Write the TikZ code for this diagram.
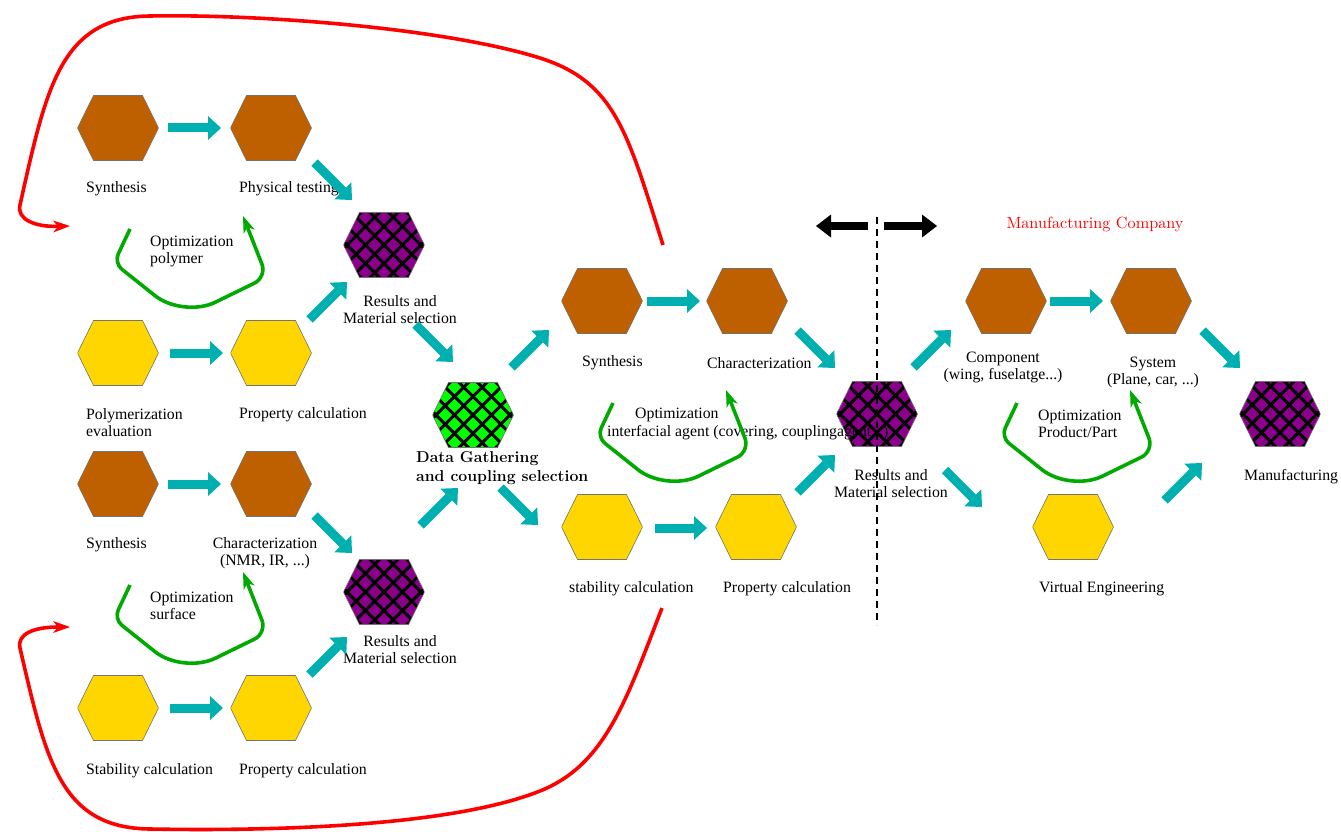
\documentclass[tikz,border=0pt]{standalone}
\usepackage{fontspec}
\newfontfamily\tnr{Liberation Serif}
\newfontfamily\lmten{lmroman10-regular.otf}
\usetikzlibrary{arrows.meta}
\definecolor{hbrown}{RGB}{191,96,0}
\definecolor{hyellow}{RGB}{255,214,0}
\definecolor{hpurple}{RGB}{139,0,139}
\definecolor{hgreen}{RGB}{0,255,0}
\definecolor{tealarr}{RGB}{0,176,176}
\definecolor{loopgreen}{RGB}{0,170,0}
\newcommand\myhexdraw[2]{%
  \coordinate (hc) at (path picture bounding box.center);
  \begin{scope}
    \clip ([shift={(-40.5,0)}]hc) -- ([shift={(-24.5,-32.5)}]hc) -- ([shift={(24.5,-32.5)}]hc) -- ([shift={(40.5,0)}]hc) -- ([shift={(24.5,32.5)}]hc) -- ([shift={(-24.5,32.5)}]hc) -- cycle;
    \fill[#1] ([shift={(-42,-34)}]hc) rectangle ([shift={(42,34)}]hc);
    \ifnum#2=1
      \foreach \k in {-5,...,5}{
        \draw[black,line width=3pt] ([shift={(\k*18.5-45,-45)}]hc) -- ++(90,90);
        \draw[black,line width=3pt] ([shift={(\k*18.5-45,45)}]hc) -- ++(90,-90);}
    \fi
  \end{scope}
  \draw[black!55,line width=0.6pt] ([shift={(-40.5,0)}]hc) -- ([shift={(-24.5,-32.5)}]hc) -- ([shift={(24.5,-32.5)}]hc) -- ([shift={(40.5,0)}]hc) -- ([shift={(24.5,32.5)}]hc) -- ([shift={(-24.5,32.5)}]hc) -- cycle;
}
\tikzset{
  hexbase/.style={rectangle,minimum width=81pt,minimum height=65pt,inner sep=0pt,outer sep=0pt},
  hexp/.style={hexbase,path picture={\myhexdraw{#1}{0}}},
  hexx/.style={hexbase,path picture={\myhexdraw{#1}{1}}},
  lbl/.style={font=\tnr\fontsize{15.8}{17}\selectfont,inner sep=0pt,yshift=-2pt},
  boldlbl/.style={font=\fontsize{15.8}{19.5}\selectfont\bfseries,inner sep=0pt},
  tarrow/.style={draw=tealarr,line width=9pt,-{Triangle[length=13pt,width=24pt,line width=0pt]}},
  barrow/.style={draw=black,line width=8pt,-{Triangle[length=15pt,width=23pt,line width=0pt]}},
  redcurve/.style={draw=red,line width=3.6pt,-{Stealth[length=17pt,width=12pt,inset=5pt,line width=0pt]}},
  gloop/.style={draw=loopgreen,line width=3.6pt,-{Stealth[length=17pt,width=12pt,inset=5pt,line width=0pt]}},
  divider/.style={draw=black,line width=2.6pt,dash pattern=on 7pt off 5pt}
}
\begin{document}
\begin{tikzpicture}[x=1pt,y=-1pt]
\useasboundingbox (0,0) rectangle (1341,832);
% ---------- hexagons ----------
\node[hexp=hbrown] (hA) at (118,128) {};
\node[hexp=hbrown] (hB) at (271,128) {};
\node[hexx=hpurple] (p1) at (384,245) {};
\node[hexp=hyellow] (hC) at (118,353) {};
\node[hexp=hyellow] (hD) at (271,353) {};
\node[hexx=hgreen] (g) at (473,415) {};
\node[hexp=hbrown] (hE) at (118,484) {};
\node[hexp=hbrown] (hF) at (271,484) {};
\node[hexx=hpurple] (p2) at (384,592) {};
\node[hexp=hyellow] (hG) at (118,708) {};
\node[hexp=hyellow] (hH) at (271,708) {};
\node[hexp=hbrown] (mA) at (602,301) {};
\node[hexp=hbrown] (mB) at (747,301) {};
\node[hexp=hyellow] (mC) at (602,527) {};
\node[hexp=hyellow] (mD) at (756,527) {};
\node[hexx=hpurple] (p3) at (877,414) {};
\node[hexp=hbrown] (rA) at (1006,301) {};
\node[hexp=hbrown] (rB) at (1151,301) {};
\node[hexp=hyellow] (rC) at (1073,527) {};
\node[hexx=hpurple] (p4) at (1280,414) {};
% ---------- labels ----------
\node[lbl,anchor=west] (tA) at (86,187) {Synthesis};
\node[lbl,anchor=west] (tB) at (239,187) {Physical testing};
\node[lbl,anchor=west,align=left] (o1) at (150,249) {Optimization\\polymer};
\node[lbl,align=center] (tp1) at (400,308) {Results and\\Material selection};
\node[lbl,anchor=west,align=left] (tC) at (86,421) {Polymerization\\evaluation};
\node[lbl,anchor=west] (tD) at (239,413) {Property calculation};
\node[lbl,anchor=west] (tE) at (86,543) {Synthesis};
\node[lbl,align=center] (tF) at (265,551) {Characterization\\(NMR, IR, ...)};
\node[lbl,anchor=west,align=left] (o2) at (150,604) {Optimization\\surface};
\node[lbl,align=center] (tp2) at (400,648) {Results and\\Material selection};
\node[lbl,anchor=west] (tG) at (86,769) {Stability calculation};
\node[lbl,anchor=west] (tH) at (239,769) {Property calculation};
\node[boldlbl,anchor=west,align=left] (tg) at (416,468) {Data Gathering\\and coupling selection};
\node[lbl,anchor=west] (tmA) at (582,361) {Synthesis};
\node[lbl,anchor=west] (tmB) at (707,361) {Characterization};
\node[lbl,anchor=west] (o3a) at (635,413) {Optimization};
\node[lbl,anchor=west] (o3b) at (607,431) {interfacial agent (covering, couplingagent...)};
\node[lbl,align=center] (tp3) at (891,482) {Results and\\Material selection};
\node[lbl,anchor=west] (tmC) at (569,587) {stability calculation};
\node[lbl,anchor=west] (tmD) at (723,587) {Property calculation};
\node[lbl,align=center] (trA) at (1003,365) {Component\\(wing, fuselatge...)};
\node[lbl,align=center] (trB) at (1153,370) {System\\(Plane, car, ...)};
\node[lbl,anchor=west,align=left] (o4) at (1038,422) {Optimization\\Product/Part};
\node[lbl,anchor=west] (trC) at (1039,587) {Virtual Engineering};
\node[lbl,anchor=west] (tp4) at (1244,475) {Manufacturing};
\node[font=\lmten\fontsize{16.2}{19}\selectfont,text=red,inner sep=0pt] (mc) at (1095,224) {Manufacturing Company};
% ---------- teal arrows ----------
\draw[tarrow] ([shift={(50,0)}]hA.center) -- ([shift={(-50,0)}]hB.center);
\draw[tarrow] ([shift={(43.5,34.5)}]hB.center) -- ([shift={(-32,-45)}]p1.center);
\draw[tarrow] ([shift={(38.5,-33.5)}]hD.center) -- ([shift={(-37,37)}]p1.center);
\draw[tarrow] ([shift={(52,0)}]hC.center) -- ([shift={(-48,0)}]hD.center);
\draw[tarrow] ([shift={(31.5,79.5)}]p1.center) -- ([shift={(-20,-53)}]g.center);
\draw[tarrow] ([shift={(50,0)}]hE.center) -- ([shift={(-50,0)}]hF.center);
\draw[tarrow] ([shift={(43.5,31.5)}]hF.center) -- ([shift={(-32,-39)}]p2.center);
\draw[tarrow] ([shift={(52,0)}]hG.center) -- ([shift={(-48,0)}]hH.center);
\draw[tarrow] ([shift={(38.5,-33.5)}]hH.center) -- ([shift={(-37,45)}]p2.center);
\draw[tarrow] ([shift={(38.5,-47.5)}]g.center) -- ([shift={(-53,29)}]mA.center);
\draw[tarrow] ([shift={(36.5,-66.5)}]p2.center) -- ([shift={(-15,73)}]g.center);
\draw[tarrow] ([shift={(27.5,72.5)}]g.center) -- ([shift={(-64,-2)}]mC.center);
\draw[tarrow] ([shift={(45,0)}]mA.center) -- ([shift={(-47,0)}]mB.center);
\draw[tarrow] ([shift={(53,1)}]mC.center) -- ([shift={(-49,1)}]mD.center);
\draw[tarrow] ([shift={(50.5,29.5)}]mB.center) -- ([shift={(-42,-46)}]p3.center);
\draw[tarrow] ([shift={(41.5,-34.5)}]mD.center) -- ([shift={(-42,41)}]p3.center);
\draw[tarrow] ([shift={(36.5,-46.5)}]p3.center) -- ([shift={(-55,29)}]rA.center);
\draw[tarrow] ([shift={(68,56)}]p3.center) -- ([shift={(-91,-20)}]rC.center);
\draw[tarrow] ([shift={(44,0)}]rA.center) -- ([shift={(-48,0)}]rB.center);
\draw[tarrow] ([shift={(51.5,29.5)}]rB.center) -- ([shift={(-40,-46)}]p4.center);
\draw[tarrow] ([shift={(91.5,-26.5)}]rC.center) -- ([shift={(-78,49)}]p4.center);
% ---------- divider ----------
\coordinate (dtop) at (877,217);
\coordinate (dbot) at (877,625);
\draw[divider] (dtop) -- (dbot);
\draw[barrow] ([shift={(-9,9)}]dtop) -- ([shift={(-61,9)}]dtop);
\draw[barrow] ([shift={(7,9)}]dtop) -- ([shift={(60,9)}]dtop);
% ---------- green loops ----------
\coordinate (gl1) at (130,229);
\coordinate (gl2) at (130,585);
\coordinate (gl3) at (613,403);
\coordinate (gl4) at (1017,403);
\foreach \s in {gl1,gl2,gl3,gl4}{
  \draw[gloop] (\s) [rounded corners=10pt] -- ++(-16,34) [rounded corners=36pt] -- ++(69,55) [rounded corners=14pt] -- ++(84,-41) -- ++(-24,-61);
}
% ---------- red feedback curves ----------
\coordinate (rts) at (663,245);
\coordinate (rte) at (70,226);
\coordinate (rbs) at (662,608);
\coordinate (rbe) at (70,627);
\draw[redcurve] (rts) .. controls (627,131) and (615,82) .. (540,58)
  .. controls (444,28) and (260,14) .. (150,16)
  .. controls (60,17) and (46,89) .. (20,205)
  .. controls (16.7,219.5) and (35,227) .. (rte);
\draw[redcurve] (rbs) .. controls (626,701) and (605,765) .. (540,791)
  .. controls (447,828) and (260,831) .. (150,829)
  .. controls (60,828) and (46,760) .. (20,648)
  .. controls (16.7,633.5) and (35,627) .. (rbe);
\end{tikzpicture}
\end{document}
